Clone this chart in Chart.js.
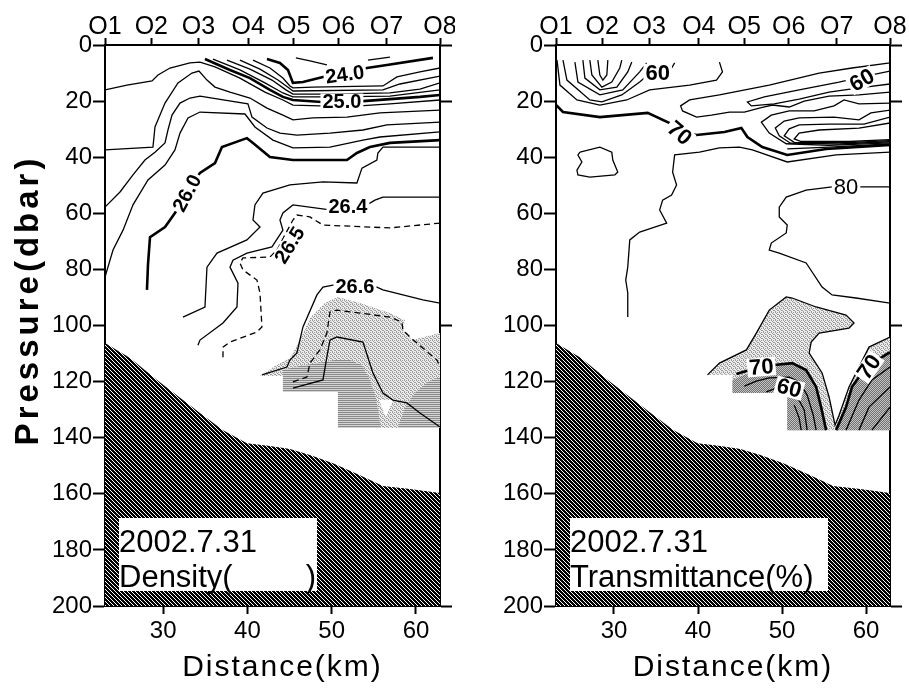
<!DOCTYPE html>
<html>
<head>
<meta charset="utf-8">
<title>Section 2002.7.31</title>
<script src="https://cdn.jsdelivr.net/npm/chart.js@4.4.1/dist/chart.umd.min.js"></script>
<style>
  html, body { margin: 0; padding: 0; background: #fff; }
  #wrap { position: relative; width: 909px; height: 688px; overflow: hidden; background: #fff; }
  #wrap canvas { position: absolute; top: 0; }
  #cL { left: 0; }
  #cR { left: 455px; }
</style>
</head>
<body>
<div id="wrap">
  <canvas id="cL" width="455" height="688" style="width:455px;height:688px"></canvas>
  <canvas id="cR" width="454" height="688" style="width:454px;height:688px"></canvas>
</div>
<script>
// ---- axes --------------------------------------------------------------
const X_MIN = 23.1, X_MAX = 62.85;                 // distance along section (km)
const stationNames = ['O1', 'O2', 'O3', 'O4', 'O5', 'O6', 'O7', 'O8'];
const stationKm    = [23.1, 28.6, 34.2, 40.1, 45.5, 50.8, 56.5, 62.85];
const distanceTicks = [30, 40, 50, 60];
const pressureTicks = [0, 20, 40, 60, 80, 100, 120, 140, 160, 180, 200];

// ---- sea floor (km, dbar) ------------------------------------------------
const bottomDepth = [[23.1,106.2],[26.07,111.6],[29.27,119.4],[32.0,125.8],[34.37,131.2],[37.1,137.3],[39.94,142.0],[42.67,143.0],[45.04,144.0],[47.42,146.2],[50.15,149.1],[53.35,153.4],[56.08,157.2],[59.28,158.3],[62.85,159.7]];

// ---- density (sigma-t) contours (km, dbar) -------------------------------
const sigma23_6 = [[54.30,5.4],[56.91,4.3]];
const sigma23_8 = [[45.75,4.6],[47.42,5.7],[49.43,7.1]];
const sigma24_0 = [[42.32,5.0],[43.86,6.4],[44.81,8.9],[45.40,13.5],[46.59,13.2],[48.96,11.4],[51.57,10.0],[54.18,8.2],[56.55,7.1],[62.01,4.6]];
const sigma24_2 = [[40.66,5.4],[42.67,8.2],[44.21,11.8],[45.04,14.6],[45.40,15.3],[47.77,15.0],[56.08,14.6],[57.74,11.4],[60.47,9.6],[62.85,8.2]];
const sigma24_4 = [[39.11,5.4],[41.49,8.6],[43.62,12.5],[44.93,15.3],[45.40,16.4],[56.08,16.0],[58.09,13.9],[62.85,11.1]];
const sigma24_6 = [[37.57,5.4],[40.30,8.6],[42.91,12.5],[44.57,16.0],[45.40,17.5],[49.79,17.5],[56.91,17.1],[60.47,15.7],[62.85,13.5]];
const sigma24_8 = [[35.91,5.0],[39.11,8.9],[42.08,13.5],[44.21,17.1],[45.40,18.5],[49.79,18.5],[56.91,18.2],[62.85,16.0]];
const sigma25_0 = [[34.96,5.0],[37.93,8.9],[40.30,11.8],[42.67,16.0],[44.21,18.5],[45.40,19.6],[48.84,20.3],[53.71,20.0],[56.91,19.3],[60.47,18.5],[62.85,17.8]];
const sigma25_2 = [[23.1,16.0],[25.71,14.3],[28.68,12.8],[29.39,10.7],[30.81,8.2],[33.18,6.4],[34.37,6.1],[36.15,7.8],[39.11,11.8],[42.08,16.8],[44.21,19.6],[45.40,21.4],[48.60,21.7],[53.35,21.7],[56.91,21.0],[62.85,19.6]];
const sigma25_4 = [[23.1,37.4],[28.79,36.4],[29.03,29.2],[30.22,20.7],[31.76,13.5],[33.42,10.0],[34.25,9.3],[35.20,12.5],[36.15,15.0],[37.93,16.8],[40.30,18.9],[42.32,22.5],[44.21,25.0],[45.40,26.7],[47.77,26.0],[51.81,25.7],[55.72,24.2],[62.85,23.2]];
const sigma25_6 = [[23.1,57.8],[24.88,52.4],[26.42,46.3],[27.84,41.0],[29.03,38.2],[30.22,34.9],[30.57,30.3],[31.05,25.0],[32.0,20.7],[33.18,18.9],[34.37,18.2],[40.06,21.0],[40.54,25.7],[42.32,29.6],[43.86,31.4],[45.87,32.1],[49.79,31.4],[53.71,30.3],[56.55,28.5],[62.85,27.5]];
const sigma25_8 = [[23.1,82.7],[24.05,73.1],[25.24,66.0],[26.42,57.0],[28.20,48.1],[30.22,42.8],[31.40,37.4],[32.00,31.4],[32.95,26.0],[34.37,23.9],[39.71,24.6],[40.89,29.2],[43.03,33.9],[45.40,36.7],[49.79,36.4],[53.71,33.9],[55.72,32.8],[62.85,31.0]];
const sigma26_0 = [[28.08,87.3],[28.20,78.4],[28.44,68.5],[30.22,64.9],[31.40,59.9],[32.83,52.8],[34.37,45.6],[36.15,42.1],[36.98,36.4],[39.94,33.2],[40.66,34.9],[42.67,39.9],[45.40,41.0],[51.81,41.0],[52.99,38.5],[54.53,36.4],[56.91,34.9],[62.85,33.9]];
const sigma26_2 = [[62.85,36.4],[56.08,36.4],[55.48,38.5],[55.36,41.0],[53.59,43.9],[52.99,49.2],[48.96,48.8],[45.04,49.9],[41.84,52.8],[40.89,57.0],[40.66,62.4],[41.49,64.9],[39.94,69.5],[36.39,74.2],[35.20,79.2],[34.96,93.4],[32.35,97.0]];
const sigma26_4 = [[62.85,54.2],[56.08,54.2],[55.13,55.3],[54.18,57.0],[52.16,58.1],[49.79,58.8],[45.40,57.0],[44.21,59.9],[43.86,62.4],[44.21,66.0],[42.91,72.0],[39.94,74.2],[38.28,76.7],[37.93,79.2],[38.88,84.9],[38.76,93.4],[37.10,99.1],[34.37,105.2],[34.13,107.0]];
const sigma26_5 = [[62.85,63.5],[56.91,65.2],[48.96,64.2],[47.42,61.3],[45.87,60.6],[45.40,62.4],[44.45,67.7],[43.50,73.1],[42.67,75.6],[39.47,75.9],[39.11,77.7],[39.47,80.2],[41.13,83.8],[41.49,88.4],[41.72,100.5],[41.13,102.3],[37.93,105.9],[37.10,107.7],[37.10,112.3]];
const sigma26_6 = [[62.85,92.0],[60.82,90.9],[56.08,87.3],[55.36,86.3],[52.76,85.6],[50.15,85.6],[48.96,86.3],[48.25,89.1],[46.59,100.5],[45.87,109.8],[45.04,112.3],[44.69,114.8],[41.72,117.6]];
const sigma26_65 = [[45.40,120.1],[47.06,118.4],[47.42,113.4],[48.60,108.7],[49.43,102.7],[49.79,95.2],[50.62,94.5],[56.91,97.0],[58.33,98.8],[58.45,101.6],[59.28,104.1],[62.48,112.3],[62.85,114.8]];
const sigma26_7 = [[45.40,122.3],[48.96,119.4],[49.43,111.2],[49.79,105.2],[50.62,104.1],[53.71,105.9],[54.89,116.9],[56.08,124.1],[57.27,126.6],[58.92,127.6],[60.47,131.2],[62.85,136.2]];

// shaded water masses in the density section
const densShadeLight = [[41.49,118.0],[43.27,114.4],[45.04,111.6],[46.23,105.2],[47.42,97.3],[49.19,92.0],[50.74,89.8],[53.35,92.0],[56.91,95.5],[58.69,98.0],[58.45,101.6],[59.52,105.2],[62.85,102.7],[62.85,136.5],[50.74,136.5],[50.74,123.7],[44.21,123.7],[44.21,118.0]];
const densShadeDark1 = [[44.21,115.9],[46.23,114.4],[48.37,113.4],[50.39,112.3],[52.16,112.3],[53.59,114.1],[54.53,119.4],[55.25,125.8],[55.84,136.5],[50.74,136.5],[50.74,123.7],[44.21,123.7]];
const densShadeDark2 = [[57.86,136.5],[58.69,129.4],[59.87,124.1],[61.41,120.1],[62.85,118.4],[62.85,136.5]];
const densShadeGap   = [[55.6,126.6],[57.27,126.6],[56.43,132.6]];

// ---- transmittance (%) contours (km, dbar) -------------------------------
const trans45 = [[28.08,5.4],[28.32,10.7],[28.68,12.5],[29.15,10.7],[29.27,5.4]];
const trans50 = [[27.13,5.4],[27.37,10.7],[28.56,15.0],[29.74,13.2],[30.69,8.2],[30.93,5.4]];
const trans53 = [[26.30,5.4],[26.54,11.8],[28.32,16.0],[30.34,15.0],[31.64,9.6],[32.12,6.1]];
const trans56 = [[25.35,6.1],[25.71,13.2],[28.32,17.8],[31.05,16.0],[33.06,9.6],[33.89,6.4]];
const trans60 = [[23.93,5.4],[24.40,12.5],[27.13,19.6],[28.56,20.3],[30.93,17.8],[33.06,13.2],[34.01,10.7],[35.20,10.0],[36.86,8.2],[37.22,6.4]];
const trans65 = [[23.22,5.4],[23.57,14.3],[25.59,19.6],[28.32,21.4],[31.52,19.6],[34.25,16.0],[39.00,14.3],[42.20,12.5],[42.91,9.6],[42.55,6.1]];
const trans70 = [[23.1,21.4],[23.93,23.9],[28.32,25.7],[34.01,24.2],[36.62,27.8],[37.81,31.0],[39.83,32.1],[43.15,31.0],[45.16,29.6],[45.88,32.8],[47.65,36.4],[50.62,39.2],[55.25,37.1],[62.85,35.6]];
const trans75 = [[62.85,38.2],[56.43,39.2],[50.62,41.7],[46.47,37.4],[44.93,36.4],[42.55,36.7],[40.18,38.2],[37.22,39.2],[36.98,45.3],[37.45,49.9],[36.86,53.5],[35.79,55.3],[35.44,58.8],[36.27,63.5],[33.06,66.7],[31.88,69.5],[31.64,79.2],[31.40,83.8],[31.64,88.4],[31.64,97.0]];
const trans80 = [[62.85,50.6],[59.99,50.6],[55.96,50.6],[52.87,51.7],[50.50,54.2],[49.67,57.8],[49.67,61.3],[50.62,64.2],[50.50,67.0],[48.72,70.6],[48.48,73.1],[49.67,74.2],[52.87,77.7],[54.77,86.3],[55.96,89.1],[58.80,90.2],[62.85,92.0]];
const trans75Ring = [[25.95,38.2],[28.32,36.4],[29.74,38.2],[29.86,41.0],[30.45,45.3],[30.10,46.3],[27.13,47.1],[25.71,46.3],[25.59,44.6],[26.18,41.7],[25.71,39.2],[25.95,38.2]];
const trans65Tongue = [[62.85,6.4],[58.33,8.2],[54.42,10.0],[48.48,14.3],[42.55,17.8],[39.00,19.6],[37.93,21.7],[38.16,23.5],[39.83,25.7],[41.60,25.0],[43.74,23.9],[45.52,23.9],[47.30,22.5],[48.84,21.4],[50.86,22.1],[52.64,20.0],[55.60,18.2],[59.16,17.8],[62.85,16.8]];
const trans60Tongue = [[62.85,9.3],[59.52,11.4],[56.79,13.2],[52.04,16.0],[47.89,18.5],[45.88,20.3],[46.35,21.7],[49.08,21.0],[52.04,19.3],[55.60,16.8],[59.16,15.3],[62.85,13.9]];
const trans66 = [[62.85,20.7],[59.16,21.0],[57.38,19.6],[56.19,21.7],[53.82,23.5],[50.86,23.5],[48.72,25.0],[47.54,27.5],[48.48,31.4],[50.50,35.2],[55.60,35.8],[62.85,34.9]];
const trans64 = [[62.85,23.2],[60.58,24.2],[59.16,26.7],[56.19,25.7],[52.04,26.0],[50.26,27.1],[49.20,29.6],[49.67,32.4],[51.0,35.0],[56.79,35.3],[62.85,34.5]];
const trans62 = [[62.85,25.7],[59.75,28.2],[55.60,28.2],[52.04,28.5],[50.86,29.9],[50.26,32.4],[51.45,34.7],[57.97,34.8],[62.85,34.1]];
const trans58 = [[62.85,27.8],[59.16,29.6],[54.42,30.3],[52.04,31.4],[51.45,33.5],[52.28,34.4],[58.0,34.4],[62.85,33.7]];
const trans68 = [[50.62,37.0],[55.60,36.4],[62.85,35.25]];
const trans75Deep = [[41.13,117.6],[42.55,113.4],[45.76,108.7],[46.94,102.7],[48.48,94.5],[50.50,89.8],[51.21,90.2],[54.06,93.4],[57.62,96.3],[58.57,99.1],[57.97,100.9],[54.42,102.7],[53.47,105.9],[53.23,109.8],[54.77,116.9],[55.60,125.5],[56.31,135.5],[56.79,132.0],[57.97,121.9],[59.16,114.8],[60.35,107.7],[62.85,104.1]];
const trans70DeepW = [[44.57,117.3],[45.76,116.2],[47.54,114.8],[49.08,114.1],[51.21,113.4],[52.87,115.9],[54.06,121.9],[54.65,129.1],[55.25,137.3]];
const trans70DeepE = [[56.43,137.3],[57.62,129.1],[58.33,121.9],[59.16,118.4],[60.94,113.0],[62.85,109.5]];
const trans65Deep = [[45.52,121.6],[46.94,119.8],[48.48,118.7],[50.86,118.4],[52.04,120.1],[52.99,124.8],[53.71,131.9],[54.06,137.3]];
const trans60Deep = [[48.13,123.7],[49.31,122.3],[50.86,122.3],[51.69,124.8],[52.64,130.1],[52.99,137.3]];
const trans55Deep = [[51.45,128.3],[52.04,133.0],[52.28,137.3]];
const trans65DeepE = [[57.62,137.3],[59.16,126.6],[60.70,119.4],[62.85,114.8]];
const trans60DeepE = [[59.16,137.3],[60.35,129.1],[62.85,121.9]];
const trans55DeepE = [[60.70,137.3],[62.85,129.1]];

// shaded turbid water in the transmittance section
const transShadeLight = trans75Deep.concat([[62.85,137.3],[50.62,137.3],[50.62,124.1],[44.10,124.1],[44.10,117.6]]);
const transShadeDark1 = [[44.10,119.4],[45.52,117.6],[47.30,115.2],[49.08,114.1],[51.21,113.4],[52.87,115.9],[54.06,121.9],[54.65,129.1],[55.25,137.3],[50.62,137.3],[50.62,124.1],[44.10,124.1]];
const transShadeDark2 = [[56.43,137.3],[57.62,129.1],[58.33,121.9],[59.16,118.4],[60.94,113.0],[62.85,109.5],[62.85,137.3]];

// ---- contour labels: [km, dbar, text, rotation(deg), bold] ----------------
const densityLabels = [
  [51.57, 10.5, '24.0', -8, true],
  [51.21, 20.3, '25.0', 0, true],
  [32.83, 52.8, '26.0', -62, true],
  [51.92, 57.4, '26.4', 0, true],
  [45.0, 71.3, '26.5', -58, true],
  [52.76, 86.0, '26.6', 0, true]
];
const transLabels = [
  [35.20, 10.0, '60', 0, true],
  [37.81, 31.4, '70', 40, true],
  [59.50, 12.5, '60', -30, true],
  [57.62, 50.6, '80', 0, false],
  [47.54, 114.8, '70', -5, true],
  [50.86, 122.3, '60', 15, true],
  [60.35, 114.8, '70', -55, true]
];

// ---- drawing helpers -----------------------------------------------------
const FONT = "'Liberation Sans', Arial, sans-serif";

function makePattern(w, h, paint) {
  const c = document.createElement('canvas');
  c.width = w; c.height = h;
  const g = c.getContext('2d');
  paint(g);
  return g.createPattern(c, 'repeat');
}
const seaFloorFill = makePattern(4, 4, g => {
  g.fillStyle = '#000'; g.fillRect(0, 0, 4, 4);
  g.fillStyle = '#fff';
  for (let i = 0; i < 4; i++) g.fillRect(i, i, 1, 1);
});
const stippleLight = makePattern(4, 4, g => {
  g.fillStyle = '#ececec'; g.fillRect(0, 0, 4, 4);
  g.fillStyle = '#9c9c9c';
  [[0,0],[2,0],[1,1],[3,2],[0,3],[2,2]].forEach(([x, y]) => g.fillRect(x, y, 1, 1));
});
const stripesGrey = makePattern(2, 2, g => {
  g.fillStyle = '#d4d4d4'; g.fillRect(0, 0, 2, 2);
  g.fillStyle = '#8a8a8a'; g.fillRect(0, 0, 2, 1);
});
const dotsGrey = makePattern(2, 2, g => {
  g.fillStyle = '#c4c4c4'; g.fillRect(0, 0, 2, 2);
  g.fillStyle = '#707070'; g.fillRect(0, 0, 1, 1); g.fillRect(1, 1, 1, 1);
});

const toXY = pts => pts.map(p => ({ x: p[0], y: p[1] }));

function contour(pts, style = {}) {
  return {
    data: toXY(pts),
    borderColor: '#000',
    borderWidth: style.thick ? 2.6 : 1.3,
    borderDash: style.dash ? [6, 4] : [],
    pointRadius: 0,
    tension: 0,
    fill: false,
    order: 1
  };
}
function area(pts, fillStyle, order) {
  return {
    data: toXY(pts),
    borderWidth: 0,
    borderColor: 'rgba(0,0,0,0)',
    backgroundColor: fillStyle,
    fill: 'shape',
    pointRadius: 0,
    tension: 0,
    order: order
  };
}
const seaFloorShape = bottomDepth.concat([[X_MAX, 200], [X_MIN, 200]]);

const densityDatasets = [
  area(seaFloorShape, seaFloorFill, 20),
  area(densShadeLight, stippleLight, 12),
  area(densShadeDark1, stripesGrey, 11),
  area(densShadeDark2, stripesGrey, 11),
  area(densShadeGap, '#ffffff', 10),
  contour(sigma23_6), contour(sigma23_8),
  contour(sigma24_0, { thick: true }),
  contour(sigma24_2), contour(sigma24_4), contour(sigma24_6), contour(sigma24_8),
  contour(sigma25_0, { thick: true }),
  contour(sigma25_2), contour(sigma25_4), contour(sigma25_6), contour(sigma25_8),
  contour(sigma26_0, { thick: true }),
  contour(sigma26_2), contour(sigma26_4),
  contour(sigma26_5, { dash: true }),
  contour(sigma26_6),
  contour(sigma26_65, { dash: true }),
  contour(sigma26_7)
];

const transDatasets = [
  area(seaFloorShape, seaFloorFill, 20),
  area(transShadeLight, stippleLight, 12),
  area(transShadeDark1, dotsGrey, 11),
  area(transShadeDark2, dotsGrey, 11),
  contour(trans45), contour(trans50), contour(trans53), contour(trans56),
  contour(trans60), contour(trans65),
  contour(trans70, { thick: true }),
  contour(trans75), contour(trans80), contour(trans75Ring),
  contour(trans65Tongue), contour(trans60Tongue),
  contour(trans66), contour(trans64), contour(trans62), contour(trans58), contour(trans68),
  contour(trans75Deep),
  contour(trans70DeepW, { thick: true }), contour(trans70DeepE, { thick: true }),
  contour(trans65Deep), contour(trans60Deep), contour(trans55Deep),
  contour(trans65DeepE), contour(trans60DeepE), contour(trans55DeepE)
];

function noPad(s) { s.paddingLeft = 0; s.paddingRight = 0; s.paddingTop = 0; s.paddingBottom = 0; }

function scalesFor(yWidth) {
  const axisBorder = { display: true, color: '#000', width: 2 };
  const tickGrid = len => ({ drawOnChartArea: false, drawTicks: true, tickLength: len, tickWidth: 2, tickColor: '#000' });
  return {
    x: {
      type: 'linear', position: 'bottom', min: X_MIN, max: X_MAX,
      afterBuildTicks: s => { s.ticks = distanceTicks.map(v => ({ value: v })); },
      ticks: { font: { family: FONT, size: 24 }, color: '#000', padding: 3, maxRotation: 0, autoSkip: false, callback: v => String(v) },
      grid: tickGrid(8), border: axisBorder,
      afterFit: s => { s.height = 82; noPad(s); }
    },
    x2: {
      type: 'linear', axis: 'x', position: 'top', min: X_MIN, max: X_MAX,
      afterBuildTicks: s => { s.ticks = stationKm.map(v => ({ value: v })); },
      ticks: {
        font: { family: FONT, size: 25 },
        color: '#000', padding: -4, maxRotation: 0, autoSkip: false,
        callback: (v, i) => stationNames[i]
      },
      grid: tickGrid(7), border: axisBorder,
      afterFit: s => { s.height = 45; noPad(s); }
    },
    y: {
      type: 'linear', position: 'left', reverse: true, min: 0, max: 200,
      afterBuildTicks: s => { s.ticks = pressureTicks.map(v => ({ value: v })); },
      ticks: { font: { family: FONT, size: 24 }, color: '#000', padding: 1, autoSkip: false },
      grid: tickGrid(12), border: axisBorder,
      afterFit: s => { s.width = yWidth; noPad(s); }
    },
    y2: {
      type: 'linear', axis: 'y', position: 'right', reverse: true, min: 0, max: 200,
      afterBuildTicks: s => { s.ticks = [0, 20, 100, 200].map(v => ({ value: v })); },
      ticks: { display: false },
      grid: tickGrid(12), border: axisBorder,
      afterFit: s => { s.width = 12; noPad(s); }
    }
  };
}

// labels on the contours, caption box and axis titles
function decorations(cfg) {
  return {
    id: 'sectionDecor',
    afterDatasetsDraw(chart) {
      const ctx = chart.ctx, xs = chart.scales.x, ys = chart.scales.y, a = chart.chartArea;
      ctx.save();
      ctx.beginPath(); ctx.rect(a.left, a.top, a.right - a.left, a.bottom - a.top); ctx.clip();
      for (const [km, p, text, rot, bold] of cfg.labels) {
        const size = text.length > 2 ? 20 : 22;
        ctx.save();
        ctx.translate(xs.getPixelForValue(km), ys.getPixelForValue(p));
        ctx.rotate(rot * Math.PI / 180);
        ctx.font = (bold ? 'bold ' : '') + size + 'px ' + FONT;
        const w = ctx.measureText(text).width;
        ctx.fillStyle = '#fff';
        ctx.fillRect(-w / 2 - 2, -size * 0.42, w + 4, size * 0.84);
        ctx.fillStyle = '#000';
        ctx.textAlign = 'center'; ctx.textBaseline = 'middle';
        ctx.fillText(text, 0, 1);
        ctx.restore();
      }
      ctx.restore();

      // caption box
      const bx = a.left + 14, by = a.top + 473;
      ctx.save();
      ctx.fillStyle = '#fff';
      ctx.fillRect(bx, by, cfg.boxWidth, 73);
      ctx.fillStyle = '#000';
      ctx.font = '31px ' + FONT;
      ctx.textBaseline = 'alphabetic';
      ctx.textAlign = 'left';
      ctx.fillText(cfg.caption[0], bx, by + 34);
      ctx.fillText(cfg.caption[1], bx, by + 69);
      if (cfg.caption[2]) {
        ctx.textAlign = 'right';
        ctx.fillText(cfg.caption[2], bx + cfg.boxWidth - 1, by + 69);
      }
      ctx.restore();
    },
    afterDraw(chart) {
      const ctx = chart.ctx, a = chart.chartArea;
      ctx.save();
      ctx.fillStyle = '#000';
      ctx.font = '30px ' + FONT;
      ctx.letterSpacing = '2px';
      ctx.textAlign = 'center';
      ctx.textBaseline = 'alphabetic';
      ctx.fillText('Distance(km)', (a.left + a.right) / 2 + 10, 676);
      if (cfg.yTitle) {
        ctx.translate(29, 300);
        ctx.rotate(-Math.PI / 2);
        ctx.font = 'bold 33px ' + FONT;
        ctx.letterSpacing = '4px';
        ctx.textBaseline = 'middle';
        ctx.fillText('Pressure(dbar)', 0, 0);
      }
      ctx.restore();
    }
  };
}

function buildSection(canvasId, datasets, yWidth, padRight, decor) {
  return new Chart(document.getElementById(canvasId), {
    type: 'line',
    data: { datasets },
    options: {
      responsive: false,
      animation: false,
      events: [],
      layout: { padding: { left: 0, right: padRight, top: 0, bottom: 0 } },
      plugins: { legend: { display: false }, tooltip: { enabled: false }, title: { display: false } },
      scales: scalesFor(yWidth)
    },
    plugins: [decorations(decor)]
  });
}

buildSection('cL', densityDatasets, 105, 3, {
  labels: densityLabels, boxWidth: 198, yTitle: true,
  caption: ['2002.7.31', 'Density(', ')']
});
buildSection('cR', transDatasets, 101, 7, {
  labels: transLabels, boxWidth: 258, yTitle: false,
  caption: ['2002.7.31', 'Transmittance(%)']
});
</script>
</body>
</html>
